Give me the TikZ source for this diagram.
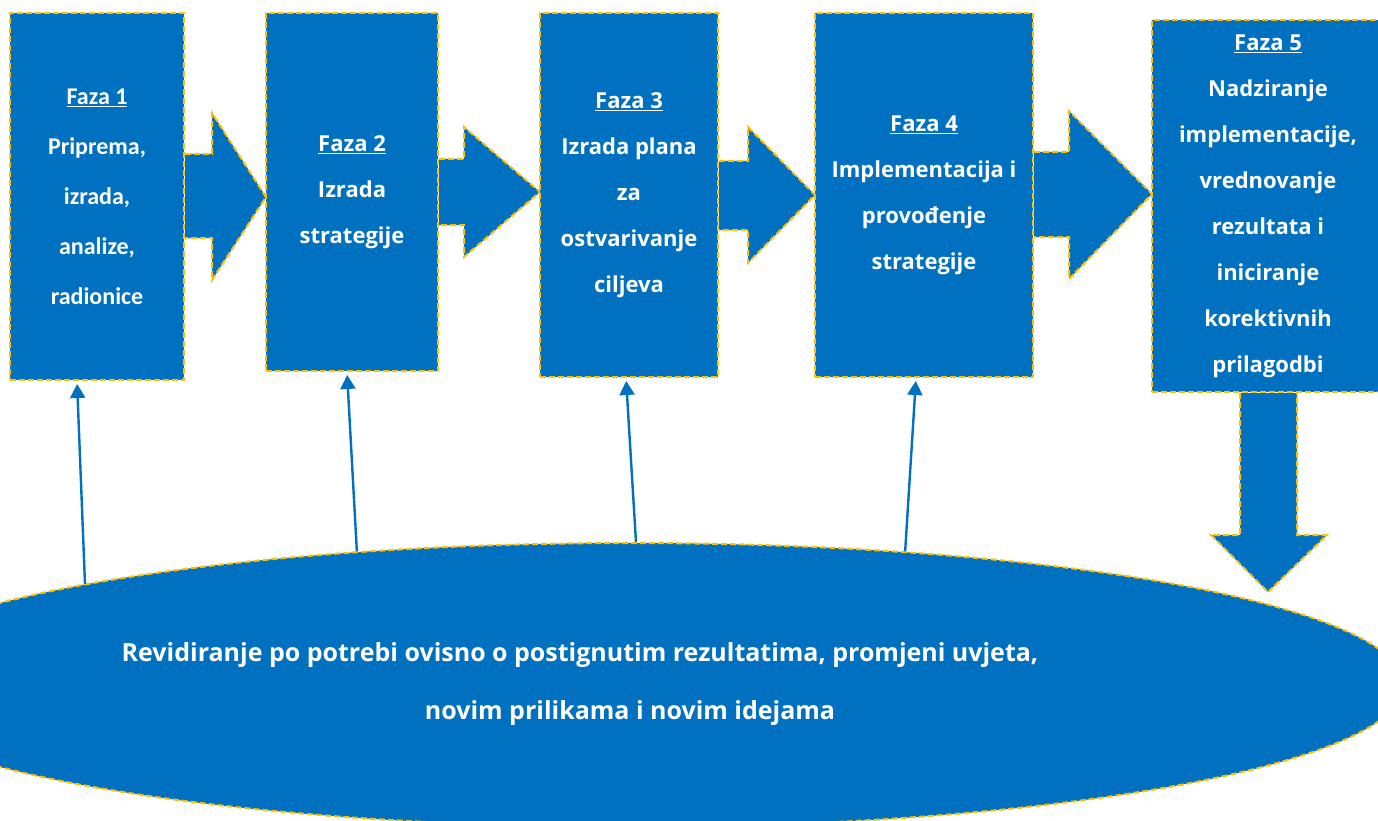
\documentclass[tikz,border=0pt]{standalone}
\usepackage{fontspec}
\setmainfont{Open Sans}
\newfontfamily\narrowfont{Carlito}
\usetikzlibrary{arrows.meta, shapes.geometric}
\definecolor{phaseblue}{HTML}{0070C0}
\definecolor{dashgold}{HTML}{FFC000}

\begin{document}
\begin{tikzpicture}[x = 1pt, y = -1pt,
gold dashes/.style = { draw = dashgold, line width = 2pt, dash pattern = on 6pt off 3pt},
phase/.style = { rectangle, fill = phaseblue, gold dashes, text = white, align = center,
inner sep = 0pt, font = \bfseries\fontsize{22}{46}\selectfont},
flow/.style = { fill = phaseblue, gold dashes},
review/.style = { ellipse, fill = phaseblue, gold dashes, inner sep = 0pt,
minimum width = 1546pt, minimum height = 284pt},
review_text/.style = { text = white, anchor = base, font = \bfseries\fontsize{25}{30}\selectfont},
link/.style = { draw = phaseblue, line width = 2.4pt, shorten > = 3pt,
-{Triangle[length = 14pt, width = 15pt]}}]
\useasboundingbox (0,0) rectangle (1378,821);
\clip (0,0) rectangle (1378,821);

% phases with the block arrows between them
\node[phase, minimum width = 174pt, minimum height = 367pt,
font = \narrowfont\bfseries\fontsize{24}{50}\selectfont] (b1) at (97,196.5)
{\underline{Faza 1}\\Priprema,\\izrada,\\analize,\\radionice};
\path[flow] (b1.east |- 0,154) -- (212,154) -- (212,113) -- (266,197) -- (212,280) -- (212,238) -- (b1.east |- 0,238);
\node[phase, minimum width = 172pt, minimum height = 358pt] (b2) at (352,192)
{\underline{Faza 2}\\Izrada\\strategije};
\path[flow] (b2.east |- 0,159) -- (464,159) -- (464,127) -- (540,192) -- (464,257) -- (464,225) -- (b2.east |- 0,225);
\node[phase, minimum width = 178pt, minimum height = 364pt] (b3) at (629,195)
{\underline{Faza 3}\\Izrada plana\\za\\ostvarivanje\\ciljeva};
\path[flow] (b3.east |- 0,161) -- (748,161) -- (748,127) -- (815,195) -- (748,263) -- (748,230) -- (b3.east |- 0,230);
\node[phase, minimum width = 218pt, minimum height = 364pt] (b4) at (924,195)
{\underline{Faza 4}\\Implementacija i\\provođenje\\strategije};
\path[flow] (b4.east |- 0,152) -- (1069,152) -- (1069,111) -- (1152,194) -- (1069,279) -- (1069,237) -- (b4.east |- 0,237);
\node[phase, minimum width = 232pt, minimum height = 372pt] (b5) at (1268,206)
{\underline{Faza 5}\\Nadziranje\\implementacije,\\vrednovanje\\rezultata i\\iniciranje\\korektivnih\\prilagodbi};
\path[flow] (b5.south -| 1240,0) -- (1240,535) -- (1211,535) -- (1268,592) -- (1327,535) -- (1297,535) -- (b5.south -| 1297,0);

% revision loop
\node[review] (rev) at (631,685) {};
\node[review_text] (rev1) at (580,661) {Revidiranje po potrebi ovisno o postignutim rezultatima, promjeni uvjeta,};
\node[review_text] (rev2) at (630,719) {novim prilikama i novim idejama};

\draw[link] ([shift = {(-546,-101)}]rev.center) -- ([xshift = -20pt]b1.south);
\draw[link] (rev.154.5) -- ([xshift = -5pt]b2.south);
\draw[link] (rev.88.4) -- ([xshift = -3pt]b3.south);
\draw[link] (rev.26.4) -- ([xshift = -8pt]b4.south);
\end{tikzpicture}
\end{document}
